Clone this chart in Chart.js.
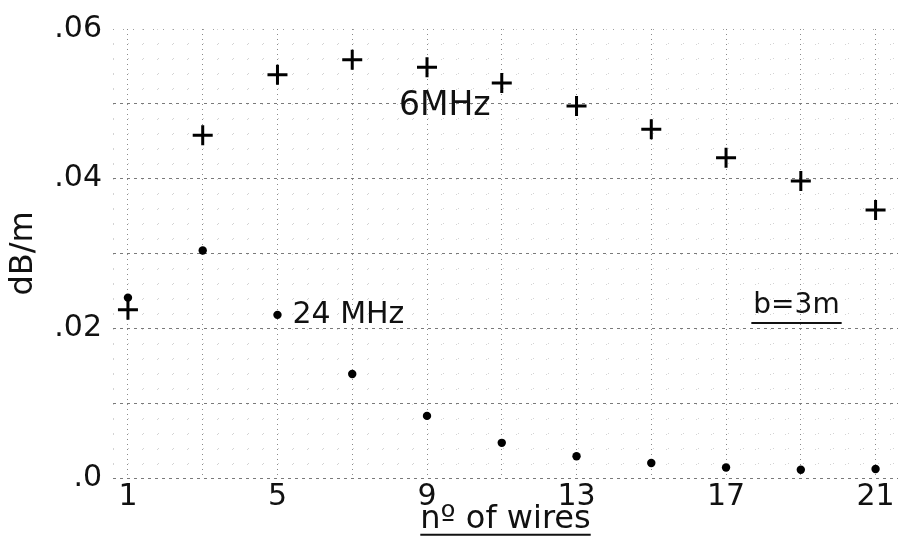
<!DOCTYPE html>
<html><head><meta charset="utf-8">
<script src="https://cdn.jsdelivr.net/npm/chart.js@4/dist/chart.umd.min.js"></script>
<style>html,body{margin:0;padding:0;background:#fff;}#wrap{width:911px;height:541px;position:relative;}</style>
</head><body><div id="wrap"><canvas id="c"></canvas></div>
<script>
// ---- data ----
const wires = [1, 3, 5, 7, 9, 11, 13, 15, 17, 19, 21];
const atten6MHz = [0.0225, 0.0458, 0.0539, 0.0559, 0.0549, 0.0528, 0.0497, 0.0466, 0.0428, 0.0397, 0.0358];
const atten24MHz = [0.0241, 0.0304, 0.0218, 0.0139, 0.0083, 0.0047, 0.0029, 0.0020, 0.0014, 0.0011, 0.0012];
const xTickValues = [1, 5, 9, 13, 17, 21];
const xTickLabels = ['1', '5', '9', '13', '17', '21'];
const yTickValues = [0, 0.02, 0.04, 0.06];
const yTickLabels = ['.0', '.02', '.04', '.06'];
const seriesNames = ['6MHz', '24 MHz'];
const noteText = 'b=3m';
const xTitle = 'nº of wires';
const yTitle = 'dB/m';

const FONT = 'DejaVu Sans';
Chart.defaults.font.family = FONT;

// graph-paper grid positions
const xGrid = []; for (let k = 0; k <= 52; k++) xGrid.push(+(0.6 + 0.4 * k).toFixed(4));
const yGrid = []; for (let k = 0; k <= 30; k++) yGrid.push(+(0.002 * k).toFixed(4));
const near = (a, b) => Math.abs(a - b) < 1e-6;
const isXMajor = v => near((v - 1) / 2, Math.round((v - 1) / 2));
const isYMajor = v => near(v / 0.01, Math.round(v / 0.01));
const isYTop = v => near(v, 0.06);

// annotation placement (data coordinates)
const notes = [
  {text: seriesNames[0], x: 8.25, y: 0.0497, size: 33, underline: false},
  {text: seriesNames[1], x: 5.4, y: 0.0218, size: 30, underline: false},
  {text: noteText, x: 17.73, y: 0.0230, size: 28, underline: true}
];

const X_TITLE_SIZE = 32;

const notePlugin = {
  id: 'notes',
  afterDatasetsDraw(chart) {
    const ctx = chart.ctx, xs = chart.scales.x, ys = chart.scales.y;
    ctx.save();
    ctx.fillStyle = '#111'; ctx.strokeStyle = '#111';
    ctx.textBaseline = 'middle'; ctx.textAlign = 'left';
    notes.forEach(n => {
      ctx.font = n.size + 'px "' + FONT + '"';
      const px = xs.getPixelForValue(n.x), py = ys.getPixelForValue(n.y);
      ctx.fillText(n.text, px, py);
      if (n.underline) {
        const w = ctx.measureText(n.text).width;
        ctx.lineWidth = 2;
        ctx.beginPath(); ctx.moveTo(px - 2, py + 17); ctx.lineTo(px + w + 2, py + 17); ctx.stroke();
      }
    });
    // underline of the x axis title
    ctx.font = X_TITLE_SIZE + 'px "' + FONT + '"';
    const tw = ctx.measureText(xTitle).width;
    const cx = (chart.chartArea.left + chart.chartArea.right) / 2;
    const ty = xs.bottom - 2 - X_TITLE_SIZE * 0.6 + 15;
    ctx.lineWidth = 2;
    ctx.beginPath(); ctx.moveTo(cx - tw / 2, ty); ctx.lineTo(cx + tw / 2, ty); ctx.stroke();
    ctx.restore();
  }
};

new Chart(document.getElementById('c'), {
  type: 'scatter',
  data: {
    datasets: [
      {label: seriesNames[0], data: wires.map((w, i) => ({x: w, y: atten6MHz[i]})),
       pointStyle: 'cross', pointRadius: 10, borderWidth: 3, borderColor: '#000', backgroundColor: '#000', showLine: false},
      {label: seriesNames[1], data: wires.map((w, i) => ({x: w, y: atten24MHz[i]})),
       pointStyle: 'circle', pointRadius: 4.2, borderWidth: 0, borderColor: '#000', backgroundColor: '#000', showLine: false}
    ]
  },
  options: {
    responsive: true, maintainAspectRatio: false, animation: false,
    devicePixelRatio: 1,
    layout: {padding: {left: 0, right: 1, top: 23, bottom: 0}},
    plugins: {legend: {display: false}, tooltip: {enabled: false}},
    scales: {
      x: {
        type: 'linear', min: 0.6, max: 21.6,
        afterBuildTicks: s => { s.ticks = xGrid.map(v => ({value: v})); },
        afterFit: s => { s.height = 63; },
        ticks: {
          autoSkip: false, maxRotation: 0, padding: 1, color: '#111',
          font: {size: 30},
          callback: v => { const i = xTickValues.findIndex(t => near(t, v)); return i >= 0 ? xTickLabels[i] : ''; }
        },
        grid: {drawTicks: false, lineWidth: 1,
          color: c => isXMajor(c.tick.value) ? '#8a8a8a' : '#d4d4d4'},
        border: {display: false, dash: c => isXMajor(c.tick.value) ? [1, 4] : [1, 14]},
        title: {display: true, text: xTitle, color: '#111', font: {size: X_TITLE_SIZE}, padding: {top: 2, bottom: 2}}
      },
      y: {
        min: 0, max: 0.06,
        afterBuildTicks: s => { s.ticks = yGrid.map(v => ({value: v})); },
        afterFit: s => { s.width = 113; },
        ticks: {
          autoSkip: false, padding: 11, color: '#111',
          font: {size: 30},
          callback: v => { const i = yTickValues.findIndex(t => near(t, v)); return i >= 0 ? yTickLabels[i] : ''; }
        },
        grid: {drawTicks: false, lineWidth: 1,
          color: c => isYTop(c.tick.value) ? '#a0a0a0' : (isYMajor(c.tick.value) ? '#7a7a7a' : '#d4d4d4')},
        border: {display: false, dash: c => isYTop(c.tick.value) ? [1, 9] : (isYMajor(c.tick.value) ? [3, 4] : [1, 14])},
        title: {display: true, text: yTitle, color: '#111', font: {size: 32}, padding: {top: 4, bottom: 0}}
      }
    }
  },
  plugins: [notePlugin]
});
</script></body></html>
